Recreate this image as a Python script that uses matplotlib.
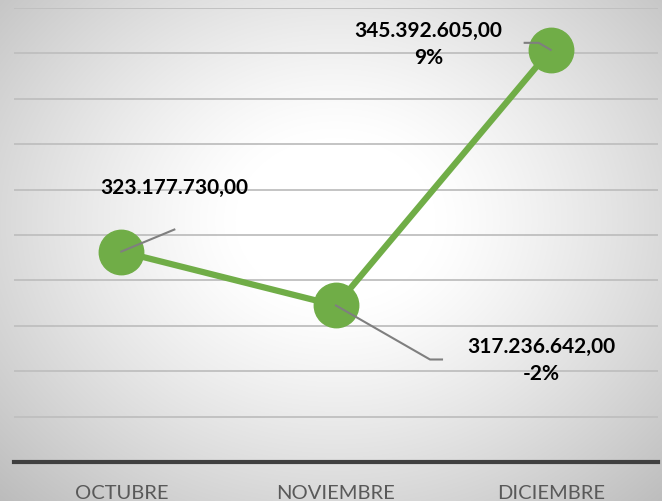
import numpy as np
import matplotlib
matplotlib.use("Agg")
import matplotlib.pyplot as plt

# datos
meses = ["OCTUBRE", "NOVIEMBRE", "DICIEMBRE"]
valores = [323177730.00, 317236642.00, 345392605.00]
etiquetas = ["323.177.730,00", "317.236.642,00\n-2%", "345.392.605,00\n9%"]
ticks_y = np.arange(300e6, 350e6 + 1, 5e6)

# posiciones de etiquetas y lineas guia (desplazamientos en pixeles)
guias = [[(53, 22)], [(94, -54), (106, -54)], [(-12, 7), (-26, 7)]]
pos_etiq = [(53, 64), (205, -55), (-122, 5)]

plt.rcParams["font.family"] = ["Lato", "DejaVu Sans"]

W, H = 662, 501
fig = plt.figure(figsize=(W / 100, H / 100), dpi=100)

# fondo con degradado radial
bg = fig.add_axes([0, 0, 1, 1], zorder=0)
yy, xx = np.mgrid[0:H, 0:W]
r = np.sqrt(((xx - 335) / 400.0) ** 2 + ((yy - 220) / 330.0) ** 2)
t = np.clip((r - 0.25) / 0.75, 0, 1.3)
g = 1.0 - 0.2 * t ** 1.2
bg.imshow(np.dstack([g, g, g]), aspect="auto", extent=[0, W, H, 0])
bg.axis("off")

ax = fig.add_axes([14 / W, (H - 462) / H, 644 / W, 454 / H], zorder=1)
ax.patch.set_alpha(0)
x = np.arange(len(meses))
ax.set_xlim(-0.5, len(meses) - 0.5)
ax.set_ylim(ticks_y[0], ticks_y[-1])
ax.set_yticks(ticks_y)
ax.yaxis.grid(True, color="#bfbfbf", linewidth=1.3)
ax.set_axisbelow(True)
for s in ["top", "right", "left"]:
    ax.spines[s].set_visible(False)
ax.spines["bottom"].set_color("#404040")
ax.spines["bottom"].set_linewidth(3)
ax.tick_params(axis="y", left=False, labelleft=False)
ax.tick_params(axis="x", bottom=False, pad=13)
ax.set_xticks(x)
ax.set_xticklabels(meses, fontsize=14.5, color="#595959")

ax.plot(x, valores, color="#70ad47", linewidth=4.5, marker="o",
        markersize=32, solid_capstyle="round", zorder=3)

# lineas guia y etiquetas
for i, v in enumerate(valores):
    px, py = ax.transData.transform((x[i], v))
    xs = [px] + [px + dx for dx, dy in guias[i]]
    ys = [py] + [py + dy for dx, dy in guias[i]]
    fig.add_artist(plt.Line2D(xs, ys, transform=None, color="#7f7f7f",
                              linewidth=1.5, zorder=5))
    lx, ly = px + pos_etiq[i][0], py + pos_etiq[i][1]
    fig.text(lx / W, ly / H, etiquetas[i], ha="center", va="center",
             fontsize=15, fontweight="bold", color="black",
             linespacing=1.45, zorder=6)

fig.savefig("out.png", dpi=100)
